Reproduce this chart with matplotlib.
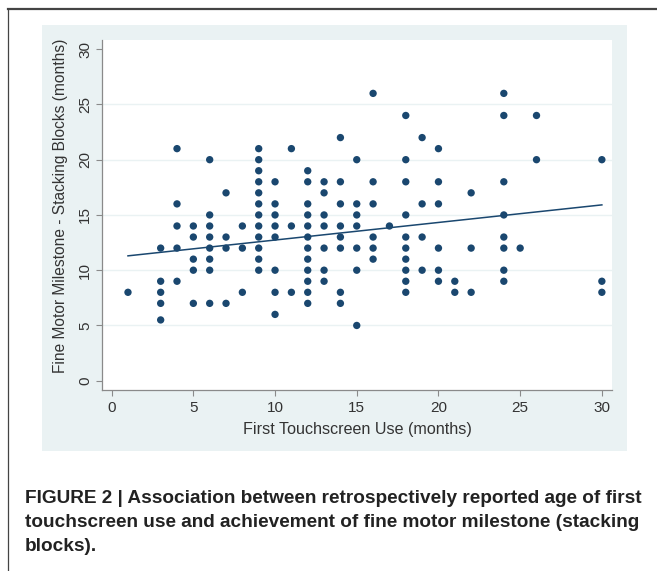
import numpy as np
import matplotlib
matplotlib.use("Agg")
import matplotlib.pyplot as plt
from matplotlib.patches import Rectangle
from matplotlib.lines import Line2D

plt.rcParams['font.family'] = ['Liberation Sans', 'DejaVu Sans']

# data, one group per month of first touchscreen use
groups = {
    1: [8],
    3: [12, 9, 8, 7, 5.5],
    4: [21, 16, 14, 12, 9],
    5: [14, 13, 11, 10, 7],
    6: [20, 15, 14, 13, 12, 11, 10, 7],
    7: [17, 13, 12, 7],
    8: [14, 12, 8],
    9: [21, 20, 19, 18, 17, 16, 15, 14, 13, 12, 11, 10],
    10: [18, 16, 15, 14, 13, 10, 8, 6],
    11: [21, 14, 8],
    12: [19, 18, 16, 15, 14, 13, 12, 11, 10, 9, 8, 7],
    13: [18, 17, 15, 14, 12, 10, 9],
    14: [22, 18, 16, 14, 13, 12, 8, 7],
    15: [20, 16, 15, 14, 12, 10, 5],
    16: [26, 18, 16, 13, 12, 11],
    17: [14],
    18: [24, 20, 18, 15, 13, 12, 11, 10, 9, 8],
    19: [22, 16, 13, 10],
    20: [21, 18, 16, 12, 10, 9],
    21: [9, 8],
    22: [17, 12, 8],
    24: [26, 24, 18, 15, 13, 12, 10, 9],
    25: [12],
    26: [24, 20],
    30: [20, 9, 8],
}
first_use = np.array([k for k, v in groups.items() for _ in v], dtype=float)
stacking = np.array([y for v in groups.values() for y in v], dtype=float)

# fitted line as printed in the figure (full sample has overlapping points)
fit_intercept = 11.14
fit_slope = 0.159

ticks = [0, 5, 10, 15, 20, 25, 30]
caption = ("FIGURE 2 | Association between retrospectively reported age of first\n"
           "touchscreen use and achievement of fine motor milestone (stacking\n"
           "blocks).")

navy = "#1a476f"
bg = "#eaf2f3"

fig = plt.figure(figsize=(6.57, 5.71), dpi=100)

# grey stata panel
fig.patches.append(Rectangle((42/657, 1-451/571), 585/657, 426/571,
                             transform=fig.transFigure, facecolor=bg,
                             edgecolor="none", zorder=-5))
# page frame lines
fig.lines.append(Line2D([8/657, 1], [1-9/571, 1-9/571], transform=fig.transFigure,
                        color="#444444", lw=1.6))
fig.lines.append(Line2D([8/657, 8/657], [0, 1-9/571], transform=fig.transFigure,
                        color="#444444", lw=0.9))

ax = fig.add_axes([102/657, 1-390/571, 510/657, 350/571])
ax.set_zorder(2)
ax.set_facecolor("white")
ax.set_xlim(-0.59, 30.62)
ax.set_ylim(-0.84, 30.83)

for t in ticks[1:-1]:
    ax.axhline(t, color=bg, lw=1.0, zorder=1)

ax.scatter(first_use, stacking, s=28, color=navy, edgecolors="none", zorder=3)

xs = np.array([first_use.min(), first_use.max()])
ax.plot(xs, fit_intercept + fit_slope*xs, color=navy, lw=1.1, zorder=2)

for side in ["top", "right"]:
    ax.spines[side].set_visible(False)
for side in ["left", "bottom"]:
    ax.spines[side].set_color("#8a8a8a")
    ax.spines[side].set_linewidth(0.9)

ax.set_xticks(ticks)
ax.set_yticks(ticks)
ax.tick_params(colors="#8a8a8a", length=4, width=0.8, labelcolor="#333333",
               labelsize=11, pad=4)
ax.tick_params(axis="y", pad=3)
for lab in ax.get_yticklabels():
    lab.set_rotation(90)
    lab.set_va("center")

ax.set_xlabel("First Touchscreen Use (months)", fontsize=11.6, color="#333333", labelpad=5)
ax.set_ylabel("Fine Motor Milestone - Stacking Blocks (months)", fontsize=11.2,
              color="#333333")
ax.yaxis.set_label_coords(-0.067, 0.527)

fig.text(25/657, 1-490/571, caption, fontsize=13.7, fontweight="bold",
         color="#222222", va="top", ha="left", linespacing=1.52,
         transform=fig.transFigure)

fig.savefig("out.png", dpi=100)
